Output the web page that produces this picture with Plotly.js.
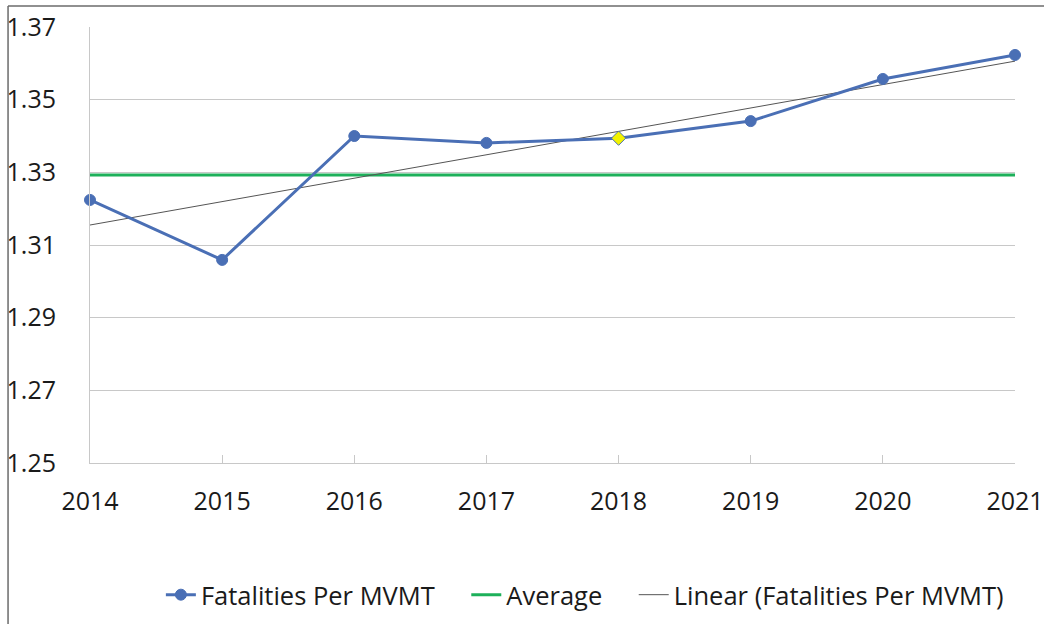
<!DOCTYPE html>
<html>
<head>
<meta charset="utf-8">
<script src="https://cdn.plot.ly/plotly-3.0.1.min.js"></script>
<style>
  html, body { margin: 0; padding: 0; background: #ffffff; }
  #chart { width: 1044px; height: 624px; }
</style>
</head>
<body>
<div id="chart"></div>
<script>
// Data
const years = [2014, 2015, 2016, 2017, 2018, 2019, 2020, 2021];
const fatalitiesPerMVMT = [1.3224, 1.3059, 1.3400, 1.3381, 1.3394, 1.3441, 1.3557, 1.3623];
const averageValue = [1.3293, 1.3293];
const averageYears = [2014, 2021];
const trendYears = [2014, 2021];
const trendValues = [1.3155, 1.3606];
const yTickVals = [1.25, 1.27, 1.29, 1.31, 1.33, 1.35, 1.37];
const seriesNames = ['Fatalities Per MVMT', 'Average', 'Linear (Fatalities Per MVMT)'];

const highlightYear = 2018;
const markerColors = years.map(y => y === highlightYear ? '#F2F200' : '#4A6FB5');
const markerSymbols = years.map(y => y === highlightYear ? 'diamond' : 'circle');

const FONT = 'Open Sans, Liberation Sans, sans-serif';
const PAD = '\u00A0\u00A0\u00A0\u00A0';

const dataTrace = {
  x: years, y: fatalitiesPerMVMT,
  type: 'scatter', mode: 'lines+markers',
  name: seriesNames[0] + PAD,
  legendrank: 1,
  line: { color: '#4A6FB5', width: 3 },
  marker: { color: markerColors, symbol: markerSymbols, size: 11,
            line: { color: '#4A6FB5', width: 1 } },
  cliponaxis: false
};
const avgTrace = {
  x: averageYears, y: averageValue,
  type: 'scatter', mode: 'lines',
  name: seriesNames[1] + PAD,
  legendrank: 2,
  line: { color: '#1DB05A', width: 3 }
};
const trendTrace = {
  x: trendYears, y: trendValues,
  type: 'scatter', mode: 'lines',
  name: seriesNames[2],
  legendrank: 3,
  line: { color: '#555555', width: 1 }
};

const layout = {
  width: 1044, height: 624,
  margin: { l: 90, r: 29, t: 27, b: 161, autoexpand: false },
  paper_bgcolor: '#ffffff', plot_bgcolor: '#ffffff',
  font: { family: FONT, color: '#1a1a1a', size: 24 },
  showlegend: true,
  legend: {
    orientation: 'h', x: 0.535, xanchor: 'center', y: -0.303, yanchor: 'middle',
    font: { family: FONT, size: 25.5, color: '#1a1a1a' },
    traceorder: 'normal', itemwidth: 30
  },
  xaxis: {
    range: [2014, 2021],
    tickvals: years, ticktext: years.map(String),
    tickfont: { family: FONT, size: 25, color: '#1a1a1a' },
    showgrid: false, zeroline: false,
    showline: true, linecolor: '#C8C8C8', linewidth: 1,
    ticks: 'inside', ticklen: 8, tickcolor: '#C8C8C8',
    ticklabelstandoff: 16
  },
  yaxis: {
    range: [1.25, 1.37],
    tickvals: yTickVals, ticktext: yTickVals.map(v => v.toFixed(2)),
    tickfont: { family: FONT, size: 25, color: '#1a1a1a' },
    showgrid: true, gridcolor: '#C8C8C8', gridwidth: 1,
    zeroline: false,
    showline: true, linecolor: '#C8C8C8', linewidth: 1,
    ticks: '', ticklabelstandoff: 28
  },
  shapes: [
    { type: 'line', xref: 'paper', yref: 'paper', x0: -0.0886, x1: -0.0886, y0: 1.048, y1: -0.37,
      line: { color: '#6b6b6b', width: 1.5 } },
    { type: 'line', xref: 'paper', yref: 'paper', x0: -0.0886, x1: 1.04, y0: 1.048, y1: 1.048,
      line: { color: '#6b6b6b', width: 1.5 } }
  ]
};

Plotly.newPlot('chart', [avgTrace, trendTrace, dataTrace], layout, { displayModeBar: false, staticPlot: true });
</script>
</body>
</html>
